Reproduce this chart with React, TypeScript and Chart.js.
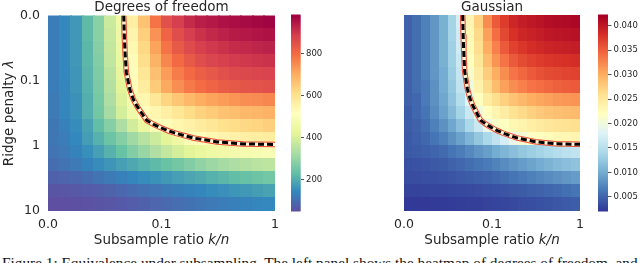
import { useEffect, useRef } from "react";
import { Chart, registerables } from "chart.js";

Chart.register(...registerables);

// ---------- data ----------
const xTickLabels = ["0.0", "0.1", "1"];
const xTickPositions = [0, 1, 2];
const yTickLabels = ["0.0", "0.1", "1", "10"];
const yTickPositions = [0, 1, 2, 3];

// Degrees of freedom heatmap: 15 rows (top -> bottom), 20 columns (left -> right)
const dofRows: number[][] = [
  [125, 145, 170, 225, 285, 380, 460, 565, 665, 790, 855, 890, 920, 940, 950, 960, 965, 970, 975, 980],
  [125, 145, 170, 225, 285, 375, 455, 550, 640, 745, 815, 860, 890, 910, 925, 935, 945, 950, 955, 960],
  [125, 145, 170, 220, 280, 370, 450, 540, 625, 720, 790, 835, 865, 885, 900, 910, 920, 925, 930, 935],
  [125, 145, 170, 220, 275, 365, 445, 530, 610, 695, 760, 805, 835, 860, 875, 885, 895, 900, 905, 910],
  [125, 145, 165, 215, 270, 355, 435, 525, 590, 670, 730, 775, 805, 825, 840, 855, 865, 870, 875, 880],
  [125, 140, 165, 210, 265, 345, 420, 505, 575, 650, 710, 750, 780, 800, 815, 830, 840, 845, 850, 855],
  [120, 140, 160, 205, 260, 335, 410, 480, 545, 590, 630, 660, 685, 705, 720, 730, 740, 750, 755, 760],
  [120, 140, 160, 205, 255, 325, 395, 460, 525, 545, 565, 590, 615, 635, 650, 665, 675, 685, 690, 695],
  [115, 130, 150, 185, 230, 280, 335, 390, 445, 500, 530, 545, 560, 575, 590, 605, 615, 625, 630, 640],
  [115, 125, 145, 175, 210, 245, 280, 315, 350, 385, 420, 455, 495, 525, 540, 550, 558, 565, 570, 575],
  [110, 120, 135, 155, 180, 210, 240, 275, 305, 340, 370, 395, 420, 440, 455, 465, 475, 482, 488, 492],
  [100, 110, 120, 135, 150, 165, 180, 195, 210, 225, 240, 255, 275, 295, 310, 325, 335, 345, 355, 360],
  [80, 85, 90, 100, 110, 120, 130, 140, 150, 160, 170, 180, 190, 200, 210, 220, 230, 238, 245, 255],
  [60, 62, 65, 70, 75, 82, 90, 98, 105, 112, 120, 127, 135, 142, 150, 157, 164, 170, 178, 185],
  [50, 50, 52, 55, 58, 62, 67, 73, 80, 87, 94, 101, 108, 114, 120, 126, 131, 136, 140, 145],
];

// Gaussian heatmap, in thousandths (4.9 = 0.0049)
const gaussianMilliRows: number[][] = [
  [4.9, 5.7, 6.9, 8.5, 10.5, 13.7, 17.3, 23.4, 27.4, 32.2, 35.4, 37.4, 39.0, 39.8, 40.2, 40.6, 41.0, 41.2, 41.4, 41.6],
  [4.9, 5.7, 6.9, 8.5, 10.5, 13.7, 16.9, 23.0, 26.6, 31.0, 34.2, 36.6, 38.2, 39.0, 39.4, 39.8, 40.2, 40.4, 40.6, 40.8],
  [4.9, 5.7, 6.9, 8.5, 10.5, 13.3, 16.9, 22.6, 26.2, 30.2, 33.0, 35.4, 37.0, 37.8, 38.4, 38.8, 39.2, 39.4, 39.6, 39.8],
  [4.9, 5.7, 6.9, 8.5, 10.5, 13.3, 16.5, 22.1, 25.4, 29.0, 31.8, 33.8, 35.4, 36.4, 37.0, 37.4, 37.8, 38.0, 38.2, 38.4],
  [4.9, 5.7, 6.9, 8.5, 10.1, 12.9, 16.1, 21.3, 24.6, 27.8, 30.2, 32.2, 33.8, 34.6, 35.4, 36.0, 36.4, 36.6, 36.8, 37.0],
  [4.9, 5.7, 6.5, 8.1, 10.1, 12.5, 15.7, 20.1, 23.8, 26.6, 29.0, 31.0, 32.2, 33.0, 33.8, 34.2, 34.6, 35.0, 35.2, 35.4],
  [4.9, 5.3, 6.5, 8.1, 9.7, 12.1, 14.9, 18.5, 22.1, 24.6, 26.2, 27.4, 28.6, 29.4, 30.2, 30.6, 31.0, 31.4, 31.6, 31.8],
  [4.5, 5.3, 6.1, 7.7, 9.3, 11.3, 13.7, 16.5, 20.1, 22.1, 23.4, 24.6, 25.8, 26.6, 27.4, 28.0, 28.4, 28.8, 29.0, 29.2],
  [4.5, 4.9, 5.7, 6.9, 8.1, 9.7, 11.7, 14.1, 16.5, 19.3, 21.3, 22.1, 23.0, 23.6, 24.2, 24.8, 25.2, 25.6, 25.8, 26.2],
  [4.3, 4.7, 5.3, 6.1, 6.9, 8.1, 9.3, 10.9, 12.5, 14.1, 15.7, 17.3, 19.3, 20.7, 21.7, 22.1, 22.5, 23.0, 23.2, 23.4],
  [4.3, 4.5, 4.7, 5.1, 5.5, 6.1, 6.7, 7.5, 8.3, 9.1, 10.1, 10.9, 11.7, 12.5, 13.1, 13.7, 14.3, 14.9, 15.3, 15.7],
  [3.7, 3.9, 4.1, 4.3, 4.5, 4.9, 5.3, 5.7, 6.1, 6.5, 7.1, 7.7, 8.3, 8.9, 9.5, 10.1, 10.7, 11.3, 11.7, 12.1],
  [3.5, 3.5, 3.7, 3.7, 3.9, 4.1, 4.3, 4.5, 4.7, 4.9, 5.3, 5.7, 6.1, 6.5, 6.9, 7.3, 7.7, 8.1, 8.5, 8.9],
  [2.9, 2.9, 3.0, 3.1, 3.1, 3.2, 3.3, 3.4, 3.5, 3.7, 3.9, 4.1, 4.3, 4.5, 4.7, 4.9, 5.2, 5.5, 5.8, 6.1],
  [2.3, 2.3, 2.3, 2.4, 2.4, 2.5, 2.6, 2.7, 2.7, 2.9, 3.0, 3.1, 3.3, 3.5, 3.6, 3.8, 4.0, 4.2, 4.4, 4.6],
];

const dofRange = [50, 985];
const dofColorbarTicks = [200, 400, 600, 800];
const gaussMilliRange = [2.1, 42.2];
const gaussColorbarTicks = [5, 10, 15, 20, 25, 30, 35, 40];

// equivalence curve (axis units: x 0..2, y 0..3)
const curveX = [0.667, 0.672, 0.68, 0.69, 0.705, 0.72, 0.75, 0.78, 0.81, 0.87, 0.93, 0.99, 1.06, 1.13, 1.28, 1.49, 1.72, 2.0];
const curveY = [0.0, 0.3, 0.6, 0.87, 1.0, 1.13, 1.28, 1.38, 1.46, 1.61, 1.67, 1.72, 1.77, 1.81, 1.88, 1.94, 1.97, 1.98];

const panelTitles = ["Degrees of freedom", "Gaussian"];
const xTitleParts = ["Subsample ratio ", "k/n"];
const yTitleParts = ["Ridge penalty ", "λ"];
const caption =
  "Figure 1: Equivalence under subsampling. The left panel shows the heatmap of degrees of freedom, and";

// ---------- colormaps ----------
const SPECTRAL = ["#9e0142", "#d53e4f", "#f46d43", "#fdae61", "#fee08b", "#ffffbf", "#e6f598", "#abdda4", "#66c2a5", "#3288bd", "#5e4fa2"];
const RDYLBU = ["#a50026", "#d73027", "#f46d43", "#fdae61", "#fee090", "#ffffbf", "#e0f3f8", "#abd9e9", "#74add1", "#4575b4", "#313695"];

function hexToRgb(h: string) {
  return [parseInt(h.slice(1, 3), 16), parseInt(h.slice(3, 5), 16), parseInt(h.slice(5, 7), 16)];
}
function cmapReversed(stops: string[], t: number) {
  const tt = Math.max(0, Math.min(1, t));
  const s = (1 - tt) * (stops.length - 1);
  const i = Math.min(Math.floor(s), stops.length - 2);
  const f = s - i;
  const a = hexToRgb(stops[i]);
  const b = hexToRgb(stops[i + 1]);
  const c = a.map((v, k) => Math.round(v + (b[k] - v) * f));
  return `rgb(${c[0]},${c[1]},${c[2]})`;
}

const FONT = "'DejaVu Sans', sans-serif";
const TEXT = "#262626";

// ---------- plugins ----------
const heatmapPlugin = {
  id: "heatmap",
  beforeDatasetsDraw(chart: any, _a: any, opts: any) {
    const grid: number[][] = opts.grid;
    if (!grid) return;
    const xs = chart.scales.x;
    const ys = chart.scales.y;
    const ca = chart.chartArea;
    const ctx = chart.ctx;
    const rows = grid.length;
    const cols = grid[0].length;
    const dx = (xs.max - xs.min) / cols;
    const dy = (ys.max - ys.min) / rows;
    ctx.save();
    ctx.beginPath();
    ctx.rect(ca.left, ca.top, ca.right - ca.left, ca.bottom - ca.top);
    ctx.clip();
    for (let r = 0; r < rows; r++) {
      for (let c = 0; c < cols; c++) {
        const x0 = xs.getPixelForValue(xs.min + c * dx);
        const x1 = xs.getPixelForValue(xs.min + (c + 1) * dx);
        const y0 = ys.getPixelForValue(ys.min + r * dy);
        const y1 = ys.getPixelForValue(ys.min + (r + 1) * dy);
        const t = (grid[r][c] - opts.range[0]) / (opts.range[1] - opts.range[0]);
        ctx.fillStyle = cmapReversed(opts.stops, t);
        const l = Math.floor(Math.min(x0, x1));
        const tp = Math.floor(Math.min(y0, y1));
        ctx.fillRect(l, tp, Math.ceil(Math.max(x0, x1)) - l + 1, Math.ceil(Math.max(y0, y1)) - tp + 1);
      }
    }
    ctx.restore();
  },
};

const labelsPlugin = {
  id: "panelLabels",
  afterDraw(chart: any, _a: any, opts: any) {
    const ctx = chart.ctx;
    const ca = chart.chartArea;
    const cx = (ca.left + ca.right) / 2;
    ctx.save();
    ctx.fillStyle = TEXT;
    ctx.textBaseline = "alphabetic";
    ctx.textAlign = "center";
    ctx.font = `13.5px ${FONT}`;
    ctx.fillText(opts.title, cx, 10.5);

    const normal = `13.5px ${FONT}`;
    const italic = `italic 13.5px ${FONT}`;
    ctx.textAlign = "left";
    ctx.font = normal;
    const wa = ctx.measureText(xTitleParts[0]).width;
    ctx.font = italic;
    const wb = ctx.measureText(xTitleParts[1]).width;
    let x = cx - (wa + wb) / 2;
    ctx.font = normal;
    ctx.fillText(xTitleParts[0], x, 244);
    ctx.font = italic;
    ctx.fillText(xTitleParts[1], x + wa, 244);

    if (opts.yTitle) {
      ctx.translate(13, (ca.top + ca.bottom) / 2);
      ctx.rotate(-Math.PI / 2);
      ctx.font = normal;
      const ya = ctx.measureText(yTitleParts[0]).width;
      ctx.font = italic;
      const yb = ctx.measureText(yTitleParts[1]).width;
      const sx = -(ya + yb) / 2;
      ctx.font = normal;
      ctx.fillText(yTitleParts[0], sx, 0);
      ctx.font = italic;
      ctx.fillText(yTitleParts[1], sx + ya, 0);
    }
    ctx.restore();
  },
};

const colorbarPlugin = {
  id: "colorbar",
  beforeDraw(chart: any, _a: any, opts: any) {
    const ys = chart.scales.y;
    const ca = chart.chartArea;
    const ctx = chart.ctx;
    const n = 200;
    ctx.save();
    for (let i = 0; i < n; i++) {
      const v0 = opts.range[0] + ((opts.range[1] - opts.range[0]) * i) / n;
      const v1 = opts.range[0] + ((opts.range[1] - opts.range[0]) * (i + 1)) / n;
      const p0 = ys.getPixelForValue(v0);
      const p1 = ys.getPixelForValue(v1);
      ctx.fillStyle = cmapReversed(opts.stops, (i + 0.5) / n);
      ctx.fillRect(ca.left, Math.min(p0, p1) - 0.5, ca.right - ca.left, Math.abs(p1 - p0) + 1);
    }
    ctx.restore();
  },
};

// ---------- components ----------
function HeatPanel(props: {
  left: number; width: number; padLeft: number; padRight: number; showY: boolean;
  grid: number[][]; range: number[]; stops: string[]; title: string;
}) {
  const ref = useRef<HTMLCanvasElement>(null);
  useEffect(() => {
    const curve = curveX.map((x, i) => ({ x, y: curveY[i] }));
    const chart = new Chart(ref.current as HTMLCanvasElement, {
      type: "scatter",
      data: {
        datasets: [
          { data: curve, showLine: true, borderColor: "#000000", borderWidth: 3, borderDash: [6, 3], pointRadius: 0, order: 0 } as any,
          { data: curve, showLine: true, borderColor: "#fff4cf", borderWidth: 3.5, pointRadius: 0, order: 1 } as any,
          { data: curve, showLine: true, borderColor: "#ec4a34", borderWidth: 5.5, pointRadius: 0, order: 2 } as any,
        ],
      },
      options: {
        animation: false,
        responsive: false,
        maintainAspectRatio: false,
        events: [],
        layout: { padding: { left: props.padLeft, right: props.padRight, top: 15, bottom: 0 } },
        plugins: {
          legend: { display: false },
          tooltip: { enabled: false },
          heatmap: { grid: props.grid, range: props.range, stops: props.stops },
          panelLabels: { title: props.title, yTitle: props.showY },
        } as any,
        scales: {
          x: {
            type: "linear",
            min: 0,
            max: 2,
            afterBuildTicks: (s: any) => { s.ticks = xTickPositions.map((v) => ({ value: v })); },
            afterFit: (s: any) => { s.height = 39; },
            ticks: {
              callback: (_v: any, i: number) => xTickLabels[i],
              font: { family: FONT, size: 12.5 },
              color: TEXT,
              padding: 6,
              maxRotation: 0,
              autoSkip: false,
            },
            grid: { display: false, drawTicks: false },
            border: { display: false },
          },
          y: {
            type: "linear",
            min: 0,
            max: 3,
            reverse: true,
            display: props.showY,
            afterBuildTicks: (s: any) => { s.ticks = yTickPositions.map((v) => ({ value: v })); },
            afterFit: (s: any) => { s.width = 48; },
            ticks: {
              callback: (_v: any, i: number) => yTickLabels[i],
              font: { family: FONT, size: 12.5 },
              color: TEXT,
              padding: 8,
              autoSkip: false,
            },
            grid: { display: false, drawTicks: false },
            border: { display: false },
          },
        },
      },
      plugins: [heatmapPlugin, labelsPlugin],
    });
    return () => chart.destroy();
  }, []);
  return (
    <canvas
      ref={ref}
      width={props.width}
      height={250}
      style={{ position: "absolute", left: props.left, top: 0, width: props.width, height: 250 }}
    />
  );
}

function Colorbar(props: {
  left: number; width: number; padLeft: number; barWidth: number;
  range: number[]; stops: string[]; ticks: number[]; labels: string[];
}) {
  const ref = useRef<HTMLCanvasElement>(null);
  useEffect(() => {
    const chart = new Chart(ref.current as HTMLCanvasElement, {
      type: "scatter",
      data: { datasets: [] },
      options: {
        animation: false,
        responsive: false,
        maintainAspectRatio: false,
        events: [],
        layout: { padding: { left: props.padLeft, top: 15, bottom: 39, right: 0 } },
        plugins: {
          legend: { display: false },
          tooltip: { enabled: false },
          colorbar: { range: props.range, stops: props.stops },
        } as any,
        scales: {
          x: { display: false, min: 0, max: 1 },
          y: {
            type: "linear",
            position: "right",
            min: props.range[0],
            max: props.range[1],
            afterBuildTicks: (s: any) => { s.ticks = props.ticks.map((v) => ({ value: v })); },
            afterFit: (s: any) => { s.width = props.width - props.padLeft - props.barWidth; },
            ticks: {
              callback: (_v: any, i: number) => props.labels[i],
              font: { family: FONT, size: 8.5 },
              color: TEXT,
              padding: 2,
              autoSkip: false,
            },
            grid: { drawOnChartArea: false, drawTicks: true, tickLength: 3.5, color: TEXT, lineWidth: 0.8 },
            border: { display: false },
          },
        },
      },
      plugins: [colorbarPlugin],
    });
    return () => chart.destroy();
  }, []);
  return (
    <canvas
      ref={ref}
      width={props.width}
      height={250}
      style={{ position: "absolute", left: props.left, top: 0, width: props.width, height: 250 }}
    />
  );
}

export default function App() {
  return (
    <div
      style={{
        position: "absolute",
        left: 0,
        top: 0,
        width: 640,
        height: 263,
        overflow: "hidden",
        background: "#ffffff",
      }}
    >
      <HeatPanel left={0} width={285} padLeft={0} padRight={9} showY={true}
        grid={dofRows} range={dofRange} stops={SPECTRAL} title={panelTitles[0]} />
      <Colorbar left={285} width={40} padLeft={6} barWidth={9.5}
        range={dofRange} stops={SPECTRAL} ticks={dofColorbarTicks}
        labels={dofColorbarTicks.map((v) => String(v))} />
      <HeatPanel left={320} width={270} padLeft={36} padRight={7} showY={false}
        grid={gaussianMilliRows} range={gaussMilliRange} stops={RDYLBU} title={panelTitles[1]} />
      <Colorbar left={590} width={50} padLeft={8} barWidth={10}
        range={gaussMilliRange} stops={RDYLBU} ticks={gaussColorbarTicks}
        labels={gaussColorbarTicks.map((v) => (v / 1000).toFixed(3))} />
      <div
        style={{
          position: "absolute",
          left: 2,
          top: 254,
          width: 640,
          whiteSpace: "nowrap",
          fontFamily: "'Liberation Serif', serif",
          fontSize: 15.3,
          lineHeight: "17px",
          color: "#111",
        }}
      >
        {caption}
      </div>
    </div>
  );
}
